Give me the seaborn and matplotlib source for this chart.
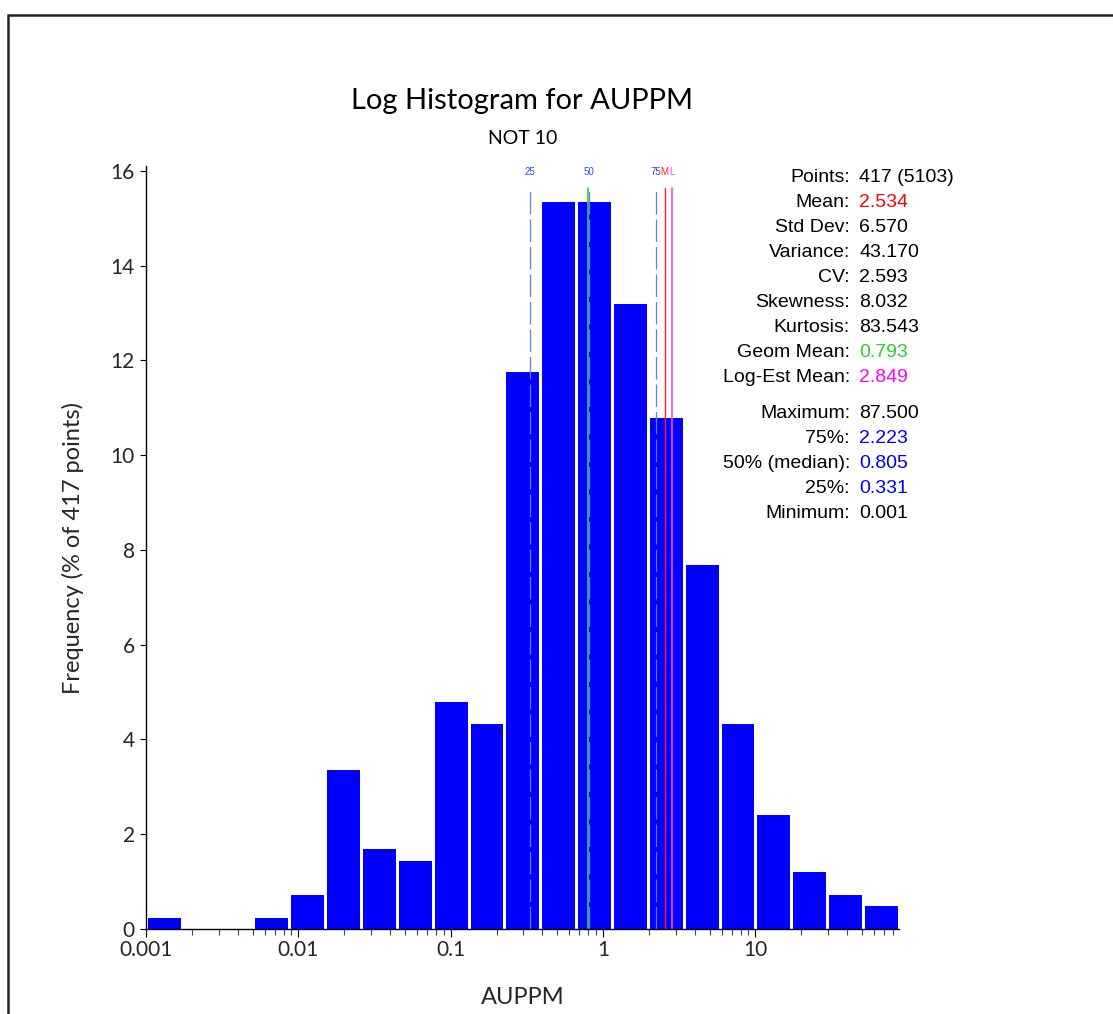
import numpy as np
import matplotlib
matplotlib.use("Agg")
import matplotlib.pyplot as plt
from matplotlib import ticker
from matplotlib.patches import Rectangle
from matplotlib.transforms import blended_transform_factory
import seaborn as sns

# ---- data -------------------------------------------------------------
n_points = 417
n_total = 5103
x_min = 0.001
x_max = 87.5
n_bins = 21
bin_counts = [1, 0, 0, 1, 3, 14, 7, 6, 20, 18, 49, 64, 64, 55, 45, 32, 18, 10, 5, 3, 2]

mean_val = 2.534
std_val = 6.570
var_val = 43.170
cv_val = 2.593
skew_val = 8.032
kurt_val = 83.543
geom_mean = 0.793
log_est_mean = 2.849
q75 = 2.223
q50 = 0.805
q25 = 0.331

x_ticks = [0.001, 0.01, 0.1, 1, 10]
x_tick_labels = ["0.001", "0.01", "0.1", "1", "10"]
y_ticks = [0, 2, 4, 6, 8, 10, 12, 14, 16]

# ---- styling ----------------------------------------------------------
sns.set_theme(style="ticks")
plt.rcParams["font.family"] = ["Lato", "DejaVu Sans"]
W, H = 1113, 1014
BLUE = "#0000ff"
QLINE = "#5b7fff"
GREEN = "#33cc33"
RED = "#ff2020"
MAGENTA = "#ff44ff"
STAT_FONT = ["Liberation Sans", "DejaVu Sans"]

fig = plt.figure(figsize=(W / 100, H / 100), dpi=100)
fig.patch.set_facecolor("white")


def fx(px):
    return px / W


def fy(py):
    return 1 - py / H


ax_left, ax_right, ax_top, ax_bottom = 146, 899, 166, 929
ax = fig.add_axes([fx(ax_left), fy(ax_bottom), fx(ax_right - ax_left), (ax_bottom - ax_top) / H])
ax.set_facecolor("white")

# ---- histogram on log-spaced bins --------------------------------------
log_edges = np.linspace(np.log10(x_min), np.log10(x_max), n_bins + 1)
bin_mid = 10 ** ((log_edges[:-1] + log_edges[1:]) / 2)
pct = np.array(bin_counts) / n_points * 100

sns.histplot(
    x=bin_mid, weights=pct, bins=n_bins,
    binrange=(np.log10(x_min), np.log10(x_max)),
    log_scale=True, shrink=0.92, color=BLUE, alpha=1,
    linewidth=0, edgecolor="none", ax=ax,
)

ax.set_xlim(x_min, x_max)
ax.set_ylim(0, 16.1)

# ---- reference lines --------------------------------------------------
line_top = (ax_bottom - 188) / (ax_bottom - ax_top)
for v in (q25, q50, q75):
    ax.axvline(v, ymin=0, ymax=line_top, color=QLINE, lw=0.9, dashes=(18, 4))
ax.axvline(geom_mean, ymin=0, ymax=line_top, color=GREEN, lw=1.2)
ax.axvline(mean_val, ymin=0, ymax=line_top, color=RED, lw=1.0)
ax.axvline(log_est_mean, ymin=0, ymax=line_top, color=MAGENTA, lw=1.2)

trans = blended_transform_factory(ax.transData, ax.transAxes)
label_y = (ax_bottom - 172) / (ax_bottom - ax_top)
for v, s, c in [(q25, "25", "#3344ff"), (q50, "50", "#3344ff"), (q75, "75", "#3344ff"),
                (mean_val, "M", RED), (log_est_mean, "L", MAGENTA)]:
    ax.text(v, label_y, s, transform=trans, ha="center", va="center",
            fontsize=7, color=c, family=STAT_FONT)

# ---- axes -------------------------------------------------------------
sns.despine(ax=ax)
for side in ("left", "bottom"):
    ax.spines[side].set_color("black")
    ax.spines[side].set_linewidth(1.0)

ax.set_xticks(x_ticks)
ax.set_xticklabels(x_tick_labels)
ax.xaxis.set_minor_locator(ticker.LogLocator(base=10, subs=np.arange(2, 10)))
ax.xaxis.set_minor_formatter(ticker.NullFormatter())
ax.set_yticks(y_ticks)
ax.set_yticklabels([str(t) for t in y_ticks])
ax.tick_params(axis="x", which="major", direction="out", length=6, width=0.8,
               color="black", labelsize=15, pad=2)
ax.tick_params(axis="x", which="minor", direction="out", length=4.3, width=0.8,
               color="#444444")
ax.tick_params(axis="y", which="major", direction="out", length=4, width=0.8,
               color="black", labelsize=15, pad=4)
ax.grid(False)

ax.set_xlabel("AUPPM", fontsize=17)
ax.set_ylabel("Frequency (% of 417 points)", fontsize=17)
ax.xaxis.label.set_va("center")
ax.yaxis.label.set_va("center")
ax.xaxis.set_label_coords(0.5, -(997 - ax_bottom) / (ax_bottom - ax_top))
ax.yaxis.set_label_coords(-(ax_left - 73) / (ax_right - ax_left), 0.5)

# ---- titles -----------------------------------------------------------
fig.text(fx(522), fy(101), "Log Histogram for AUPPM", ha="center", va="center",
         fontsize=21, color="black")
fig.text(fx(523), fy(138), "NOT 10", ha="center", va="center",
         fontsize=14, color="black")

# ---- summary statistics ----------------------------------------------
stat_labels = ["Points:", "Mean:", "Std Dev:", "Variance:", "CV:", "Skewness:",
               "Kurtosis:", "Geom Mean:", "Log-Est Mean:",
               "Maximum:", "75%:", "50% (median):", "25%:", "Minimum:"]
stat_values = [f"{n_points} ({n_total})", f"{mean_val:.3f}", f"{std_val:.3f}",
               f"{var_val:.3f}", f"{cv_val:.3f}", f"{skew_val:.3f}",
               f"{kurt_val:.3f}", f"{geom_mean:.3f}", f"{log_est_mean:.3f}",
               f"{x_max:.3f}", f"{q75:.3f}", f"{q50:.3f}", f"{q25:.3f}", f"{x_min:.3f}"]
stat_colors = ["black", "#ff0000", "black", "black", "black", "black", "black",
               GREEN, "#ff00ff", "black", BLUE, BLUE, BLUE, "black"]

row_y = [175.5 + 24.95 * i for i in range(9)] + [411.7 + 25 * i for i in range(5)]
for y, lab, val, col in zip(row_y, stat_labels, stat_values, stat_colors):
    fig.text(fx(850), fy(y + 6.5), lab, ha="right", va="baseline",
             fontsize=14, color="black", family=STAT_FONT)
    fig.text(fx(859), fy(y + 6.5), val, ha="left", va="baseline",
             fontsize=14, color=col, family=STAT_FONT)

# ---- outer frame ------------------------------------------------------
frame = Rectangle((fx(7.5), -0.5), 2.0, fy(15) + 0.5, transform=fig.transFigure,
                  fill=False, edgecolor="#222222", linewidth=1.8, clip_on=False)
fig.add_artist(frame)

fig.savefig("out.png", dpi=100, facecolor="white")
